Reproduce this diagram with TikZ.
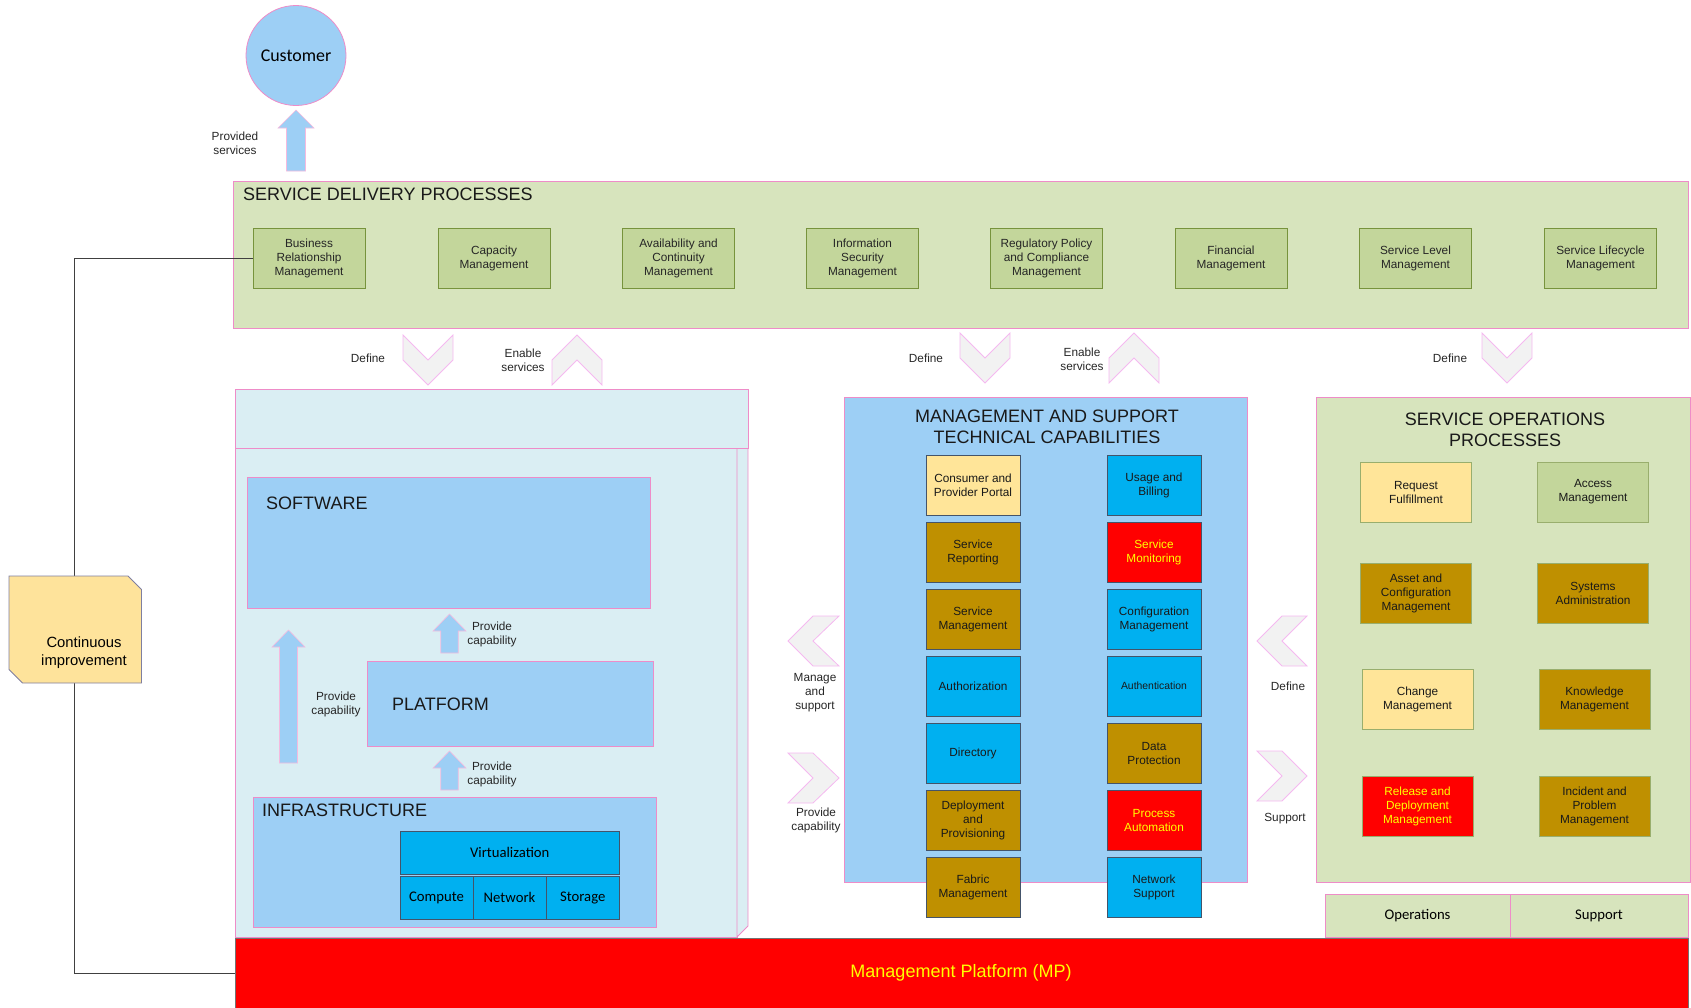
\documentclass[tikz,border=0pt]{standalone}
\usepackage{fontspec}
\setmainfont{Liberation Sans}
\newfontfamily\calib{Carlito}
\definecolor{lblue}{RGB}{157,207,245}
\definecolor{pinkb}{RGB}{238,140,200}
\definecolor{lgreen}{RGB}{215,228,189}
\definecolor{mgreen}{RGB}{195,214,155}
\definecolor{dgreen}{RGB}{119,147,60}
\definecolor{lcyan}{RGB}{218,238,243}
\definecolor{cYel}{RGB}{255,229,153}
\definecolor{cGold}{RGB}{191,144,0}
\definecolor{cyanb}{RGB}{0,176,240}
\definecolor{slate}{RGB}{68,84,106}
\definecolor{chevfill}{RGB}{242,242,242}
\definecolor{chevline}{RGB}{245,185,240}
\definecolor{ciyel}{RGB}{254,227,155}
\definecolor{ciline}{RGB}{127,127,160}
\definecolor{txtyel}{RGB}{255,255,0}
\newcommand\fSm{\fontsize{11.8}{14}\selectfont}
\newcommand\fXs{\fontsize{10.4}{13}\selectfont}
\newcommand\fMd{\fontsize{14.8}{18}\selectfont}
\newcommand\fLg{\fontsize{18}{20.5}\selectfont}
\newcommand\fCal{\calib\fontsize{14.7}{17}\selectfont}
\begin{document}
\begin{tikzpicture}[x=1pt,y=-1pt,
  container/.style={draw=pinkb, line width=0.8pt, inner sep=0pt, outer sep=0pt, anchor=north west},
  sdpbox/.style={draw=dgreen, fill=mgreen, line width=0.8pt, minimum width=112pt, minimum height=60pt, inner sep=1pt, align=center, font=\fSm, text=black!85},
  capbox/.style={draw=slate, line width=0.9pt, minimum width=94pt, minimum height=60pt, inner sep=1pt, align=center, font=\fSm, text=black!90},
  opbox/.style={draw=dgreen!75, line width=0.8pt, minimum width=111pt, minimum height=60pt, inner sep=1pt, align=center, font=\fSm, text=black!90},
  infbox/.style={draw=slate, fill=cyanb, line width=0.9pt, inner sep=0pt, outer sep=0pt, anchor=north west, font=\fCal},
  chev/.style={fill=chevfill, draw=chevline, line width=0.8pt},
  lbl/.style={font=\fSm, align=center, inner sep=0pt, text=black!85},
  bigarrow/.style={fill=lblue, draw=pinkb!60, line width=0.6pt},
  ttl/.style={font=\fLg, inner sep=0pt, align=center, text=black!90},
  conn/.style={draw=black!75, line width=1pt}
]
\useasboundingbox (0,0) rectangle (1691,1007);

% ---------- Customer ----------
\node[circle, fill=lblue, draw=pinkb, line width=0.8pt, minimum size=100pt, inner sep=0pt, font={\calib\fontsize{17.9}{20}\selectfont}] (cust) at (296,55.5) {Customer};
\filldraw[bigarrow, shift={(296,110)}] (0,0) -- (18,18) -- (9.5,18) -- (9.5,61) -- (-9.5,61) -- (-9.5,18) -- (-18,18) -- cycle;
\node[lbl] (provsvc) at (235,143) {Provided\\services};

% ---------- Service delivery processes ----------
\node[container, fill=lgreen, minimum width=1455pt, minimum height=147pt] (sdp) at (233,181) {};
\node[ttl, anchor=west] (sdptitle) at (243,194) {SERVICE DELIVERY PROCESSES};
\node[sdpbox] (brm) at (309,258) {Business\\Relationship\\Management};
\node[sdpbox] (capm) at (494,258) {Capacity\\Management};
\node[sdpbox] (avail) at (678.5,258) {Availability and\\Continuity\\Management};
\node[sdpbox] (infosec) at (862.5,258) {Information\\Security\\Management};
\node[sdpbox] (reg) at (1046.5,258) {Regulatory Policy\\and Compliance\\Management};
\node[sdpbox] (fin) at (1231,258) {Financial\\Management};
\node[sdpbox] (slm) at (1415.5,258) {Service Level\\Management};
\node[sdpbox] (lcm) at (1600.5,258) {Service Lifecycle\\Management};

% ---------- Chevrons under SDP ----------
\filldraw[chev, shift={(428,335)}] (-25,0) -- (0,25) -- (25,0) -- (25,25) -- (0,50) -- (-25,25) -- cycle;
\filldraw[chev, shift={(577,335)}] (-25,25) -- (0,0) -- (25,25) -- (25,50) -- (0,25) -- (-25,50) -- cycle;
\filldraw[chev, shift={(985,333)}] (-25,0) -- (0,25) -- (25,0) -- (25,25) -- (0,50) -- (-25,25) -- cycle;
\filldraw[chev, shift={(1134,333)}] (-25,25) -- (0,0) -- (25,25) -- (25,50) -- (0,25) -- (-25,50) -- cycle;
\filldraw[chev, shift={(1507,333)}] (-25,0) -- (0,25) -- (25,0) -- (25,25) -- (0,50) -- (-25,25) -- cycle;
\node[lbl] (def1) at (368,358) {Define};
\node[lbl] (ena1) at (523,360) {Enable\\services};
\node[lbl] (def2) at (926,358) {Define};
\node[lbl] (ena2) at (1082,359) {Enable\\services};
\node[lbl] (def3) at (1450,358) {Define};

% ---------- Continuous improvement connector ----------
\node[container, fill=red, draw=black!55, minimum width=1453pt, minimum height=70pt] (mp) at (235,938) {};
\node[font=\fLg, text=txtyel, inner sep=0pt] (mptext) at (961,973) {Management Platform (MP)};
\draw[conn] (brm.west) -- ++(-178.5,0) |- (mp.west);
\filldraw[fill=ciyel, draw=ciline, line width=0.9pt] (9,576) -- (128,576) -- (141.5,589.5) -- (141.5,683) -- (22.5,683) -- (9,669.5) -- cycle;
\node[font=\fMd, align=center, inner sep=0pt] (ci) at (84,653) {Continuous\\improvement};

% ---------- Left 3D box ----------
\node[container, fill=lcyan, minimum width=502pt, minimum height=489pt] (cloud) at (235,448) {};
\filldraw[fill=lcyan, draw=pinkb, line width=0.8pt] (737,448) -- (748,437) -- (748,926) -- (737,937) -- cycle;
\node[container, fill=lcyan, minimum width=513pt, minimum height=59pt] (cloudtop) at (235,389) {};

\node[container, fill=lblue, minimum width=403pt, minimum height=131pt] (sw) at (247,477) {};
\node[ttl, anchor=west] (swt) at (266,503) {SOFTWARE};
\node[container, fill=lblue, minimum width=286pt, minimum height=85pt] (pf) at (367,661) {};
\node[ttl, anchor=west] (pft) at (392,704) {PLATFORM};
\node[container, fill=lblue, minimum width=402.5pt, minimum height=130pt] (inf) at (253.5,797) {};
\node[ttl, anchor=west] (inft) at (262,810) {INFRASTRUCTURE};
\node[infbox, minimum width=219.5pt, minimum height=43pt] (virt) at (400,831) {Virtualization};
\node[infbox, minimum width=73pt, minimum height=43pt] (comp) at (400,876) {Compute};
\node[infbox, minimum width=73pt, minimum height=43pt] (netw) at (473,876) {Network};
\node[infbox, minimum width=73.5pt, minimum height=43pt] (stor) at (546,876) {Storage};

\filldraw[bigarrow, shift={(288.5,630)}] (0,0) -- (16.5,17) -- (9,17) -- (9,133) -- (-9,133) -- (-9,17) -- (-16.5,17) -- cycle;
\filldraw[bigarrow, shift={(449.5,614)}] (0,0) -- (16.5,17) -- (8.75,17) -- (8.75,39) -- (-8.75,39) -- (-8.75,17) -- (-16.5,17) -- cycle;
\filldraw[bigarrow, shift={(449.5,751)}] (0,0) -- (16.5,17) -- (8.75,17) -- (8.75,39) -- (-8.75,39) -- (-8.75,17) -- (-16.5,17) -- cycle;
\node[lbl] (pc1) at (336,704) {Provide\\capability};
\node[lbl] (pc2) at (492,634) {Provide\\capability};
\node[lbl] (pc3) at (492,774) {Provide\\capability};

% ---------- Management and support ----------
\node[container, fill=lblue, minimum width=403pt, minimum height=485pt] (mgmt) at (844,397) {};
\node[ttl] (mgmtt) at (1047,427) {MANAGEMENT AND SUPPORT\\TECHNICAL CAPABILITIES};
\node[capbox, fill=cYel] (m1) at (973,485.5) {Consumer and\\Provider Portal};
\node[capbox, fill=cGold] (m2) at (973,552) {Service\\Reporting};
\node[capbox, fill=cGold] (m3) at (973,619) {Service\\Management};
\node[capbox, fill=cyanb] (m4) at (973,686) {Authorization};
\node[capbox, fill=cyanb] (m5) at (973,753) {Directory};
\node[capbox, fill=cGold] (m6) at (973,820) {Deployment\\and\\Provisioning};
\node[capbox, fill=cGold] (m7) at (973,887) {Fabric\\Management};
\node[capbox, fill=cyanb] (n1) at (1154,485.5) {Usage and\\Billing};
\node[capbox, fill=red, text=txtyel] (n2) at (1154,552) {Service\\Monitoring};
\node[capbox, fill=cyanb] (n3) at (1154,619) {Configuration\\Management};
\node[capbox, fill=cyanb, font=\fXs] (n4) at (1154,686) {Authentication};
\node[capbox, fill=cGold] (n5) at (1154,753) {Data\\Protection};
\node[capbox, fill=red, text=txtyel] (n6) at (1154,820) {Process\\Automation};
\node[capbox, fill=cyanb] (n7) at (1154,887) {Network\\Support};

\filldraw[chev, shift={(788,641)}] (0,0) -- (25,-25) -- (51,-25) -- (25,0) -- (51,25) -- (25,25) -- cycle;
\filldraw[chev, shift={(788,778)}] (0,-25) -- (25,-25) -- (51,0) -- (25,25) -- (0,25) -- (25,0) -- cycle;
\node[lbl] (mas) at (815,693) {Manage\\and\\support};
\node[lbl] (pc4) at (816,820) {Provide\\capability};

% ---------- Service operations ----------
\node[container, fill=lgreen, minimum width=374pt, minimum height=485pt] (sop) at (1316,397) {};
\node[ttl] (sopt) at (1505,430) {SERVICE OPERATIONS\\PROCESSES};
\node[opbox, fill=cYel] (o1) at (1416,492) {Request\\Fulfillment};
\node[opbox, fill=mgreen] (o2) at (1593,492) {Access\\Management};
\node[opbox, fill=cGold] (o3) at (1416,593) {Asset and\\Configuration\\Management};
\node[opbox, fill=cGold] (o4) at (1593,593) {Systems\\Administration};
\node[opbox, fill=cYel] (o5) at (1417.5,699.5) {Change\\Management};
\node[opbox, fill=cGold] (o6) at (1594.5,699.5) {Knowledge\\Management};
\node[opbox, fill=red, text=txtyel] (o7) at (1417.5,806.5) {Release and\\Deployment\\Management};
\node[opbox, fill=cGold] (o8) at (1594.5,806.5) {Incident and\\Problem\\Management};

\filldraw[chev, shift={(1257,641)}] (0,0) -- (25,-25) -- (50,-25) -- (25,0) -- (50,25) -- (25,25) -- cycle;
\filldraw[chev, shift={(1257,776)}] (0,-25) -- (25,-25) -- (50,0) -- (25,25) -- (0,25) -- (25,0) -- cycle;
\node[lbl] (def4) at (1288,686) {Define};
\node[lbl] (sup1) at (1285,819) {Support};

\node[container, fill=lgreen, minimum width=185pt, minimum height=43pt, font=\fCal] (ops) at (1325,894) {Operations};
\node[container, fill=lgreen, minimum width=178pt, minimum height=43pt, font=\fCal] (supb) at (1510,894) {Support};
\end{tikzpicture}
\end{document}
